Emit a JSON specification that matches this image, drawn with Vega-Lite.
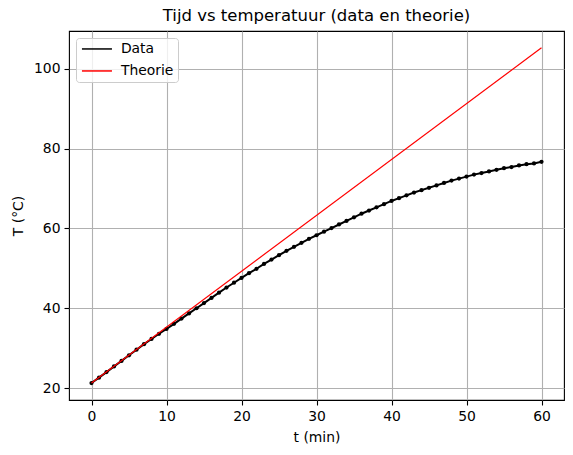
{
  "$schema": "https://vega.github.io/schema/vega-lite/v6.json",
  "width": 495,
  "height": 369,
  "autosize": {"type": "none"},
  "padding": {"left": 69, "top": 31, "right": 9, "bottom": 55},
  "title": {
    "text": "Tijd vs temperatuur (data en theorie)",
    "fontSize": 16.5,
    "fontWeight": "normal",
    "font": "DejaVu Sans",
    "color": "black",
    "offset": 7
  },
  "datasets": {
    "meting": [
      {"t": 0, "T": 21.25, "serie": "Data"},
      {"t": 1, "T": 22.6, "serie": "Data"},
      {"t": 2, "T": 24.0, "serie": "Data"},
      {"t": 3, "T": 25.4, "serie": "Data"},
      {"t": 4, "T": 26.8, "serie": "Data"},
      {"t": 5, "T": 28.2, "serie": "Data"},
      {"t": 6, "T": 29.6, "serie": "Data"},
      {"t": 7, "T": 31.0, "serie": "Data"},
      {"t": 8, "T": 32.3, "serie": "Data"},
      {"t": 9, "T": 33.6, "serie": "Data"},
      {"t": 10, "T": 34.8, "serie": "Data"},
      {"t": 11, "T": 36.1, "serie": "Data"},
      {"t": 12, "T": 37.4, "serie": "Data"},
      {"t": 13, "T": 38.7, "serie": "Data"},
      {"t": 14, "T": 40.0, "serie": "Data"},
      {"t": 15, "T": 41.3, "serie": "Data"},
      {"t": 16, "T": 42.6, "serie": "Data"},
      {"t": 17, "T": 43.9, "serie": "Data"},
      {"t": 18, "T": 45.2, "serie": "Data"},
      {"t": 19, "T": 46.4, "serie": "Data"},
      {"t": 20, "T": 47.6, "serie": "Data"},
      {"t": 21, "T": 48.8, "serie": "Data"},
      {"t": 22, "T": 49.9, "serie": "Data"},
      {"t": 23, "T": 51.1, "serie": "Data"},
      {"t": 24, "T": 52.2, "serie": "Data"},
      {"t": 25, "T": 53.3, "serie": "Data"},
      {"t": 26, "T": 54.4, "serie": "Data"},
      {"t": 27, "T": 55.4, "serie": "Data"},
      {"t": 28, "T": 56.4, "serie": "Data"},
      {"t": 29, "T": 57.4, "serie": "Data"},
      {"t": 30, "T": 58.3, "serie": "Data"},
      {"t": 31, "T": 59.2, "serie": "Data"},
      {"t": 32, "T": 60.1, "serie": "Data"},
      {"t": 33, "T": 61.0, "serie": "Data"},
      {"t": 34, "T": 61.9, "serie": "Data"},
      {"t": 35, "T": 62.8, "serie": "Data"},
      {"t": 36, "T": 63.7, "serie": "Data"},
      {"t": 37, "T": 64.5, "serie": "Data"},
      {"t": 38, "T": 65.3, "serie": "Data"},
      {"t": 39, "T": 66.1, "serie": "Data"},
      {"t": 40, "T": 66.9, "serie": "Data"},
      {"t": 41, "T": 67.6, "serie": "Data"},
      {"t": 42, "T": 68.3, "serie": "Data"},
      {"t": 43, "T": 69.0, "serie": "Data"},
      {"t": 44, "T": 69.6, "serie": "Data"},
      {"t": 45, "T": 70.2, "serie": "Data"},
      {"t": 46, "T": 70.8, "serie": "Data"},
      {"t": 47, "T": 71.4, "serie": "Data"},
      {"t": 48, "T": 72.0, "serie": "Data"},
      {"t": 49, "T": 72.5, "serie": "Data"},
      {"t": 50, "T": 73.0, "serie": "Data"},
      {"t": 51, "T": 73.5, "serie": "Data"},
      {"t": 52, "T": 73.9, "serie": "Data"},
      {"t": 53, "T": 74.3, "serie": "Data"},
      {"t": 54, "T": 74.7, "serie": "Data"},
      {"t": 55, "T": 75.1, "serie": "Data"},
      {"t": 56, "T": 75.4, "serie": "Data"},
      {"t": 57, "T": 75.8, "serie": "Data"},
      {"t": 58, "T": 76.1, "serie": "Data"},
      {"t": 59, "T": 76.3, "serie": "Data"},
      {"t": 60, "T": 76.7, "serie": "Data"}
    ],
    "theorie": [
      {"t": 0, "T": 21.25, "serie": "Theorie"},
      {"t": 60, "T": 105.3, "serie": "Theorie"}
    ]
  },
  "encoding": {
    "x": {
      "field": "t",
      "type": "quantitative",
      "scale": {"domain": [-3, 63], "nice": false, "zero": false},
      "axis": {"values": [0, 10, 20, 30, 40, 50, 60], "title": "t (min)"}
    },
    "y": {
      "field": "T",
      "type": "quantitative",
      "scale": {"domain": [17.0, 109.5], "nice": false, "zero": false},
      "axis": {"values": [20, 40, 60, 80, 100], "title": "T (°C)"}
    },
    "color": {
      "field": "serie",
      "type": "nominal",
      "scale": {"domain": ["Data", "Theorie"], "range": ["black", "red"]},
      "legend": {
        "title": null,
        "orient": "top-left",
        "offset": 7,
        "padding": 4,
        "symbolType": "M -1,0 L 5,0",
        "symbolSize": 100,
        "symbolStrokeWidth": 1.5,
        "labelOffset": 27,
        "rowPadding": 7,
        "labelFontSize": 13.9,
        "labelFont": "DejaVu Sans",
        "labelColor": "black",
        "strokeColor": "#cccccc",
        "fillColor": "rgba(255,255,255,0.8)",
        "cornerRadius": 3
      }
    }
  },
  "layer": [
    {
      "data": {"name": "meting"},
      "mark": {"type": "line", "strokeWidth": 2, "point": {"filled": true, "size": 18}}
    },
    {
      "data": {"name": "theorie"},
      "mark": {"type": "line", "strokeWidth": 1.2}
    }
  ],
  "config": {
    "font": "DejaVu Sans",
    "view": {"stroke": "black", "strokeWidth": 1.1},
    "axis": {
      "domain": false,
      "grid": true,
      "gridColor": "#b0b0b0",
      "gridWidth": 1.1,
      "tickColor": "black",
      "tickSize": 5,
      "tickWidth": 1.1,
      "labelFont": "DejaVu Sans",
      "labelFontSize": 13.9,
      "labelColor": "black",
      "labelPadding": 4,
      "titleFont": "DejaVu Sans",
      "titleFontSize": 13.9,
      "titleFontWeight": "normal",
      "titleColor": "black"
    },
    "axisX": {"titlePadding": 8},
    "axisY": {"titlePadding": 8}
  }
}
